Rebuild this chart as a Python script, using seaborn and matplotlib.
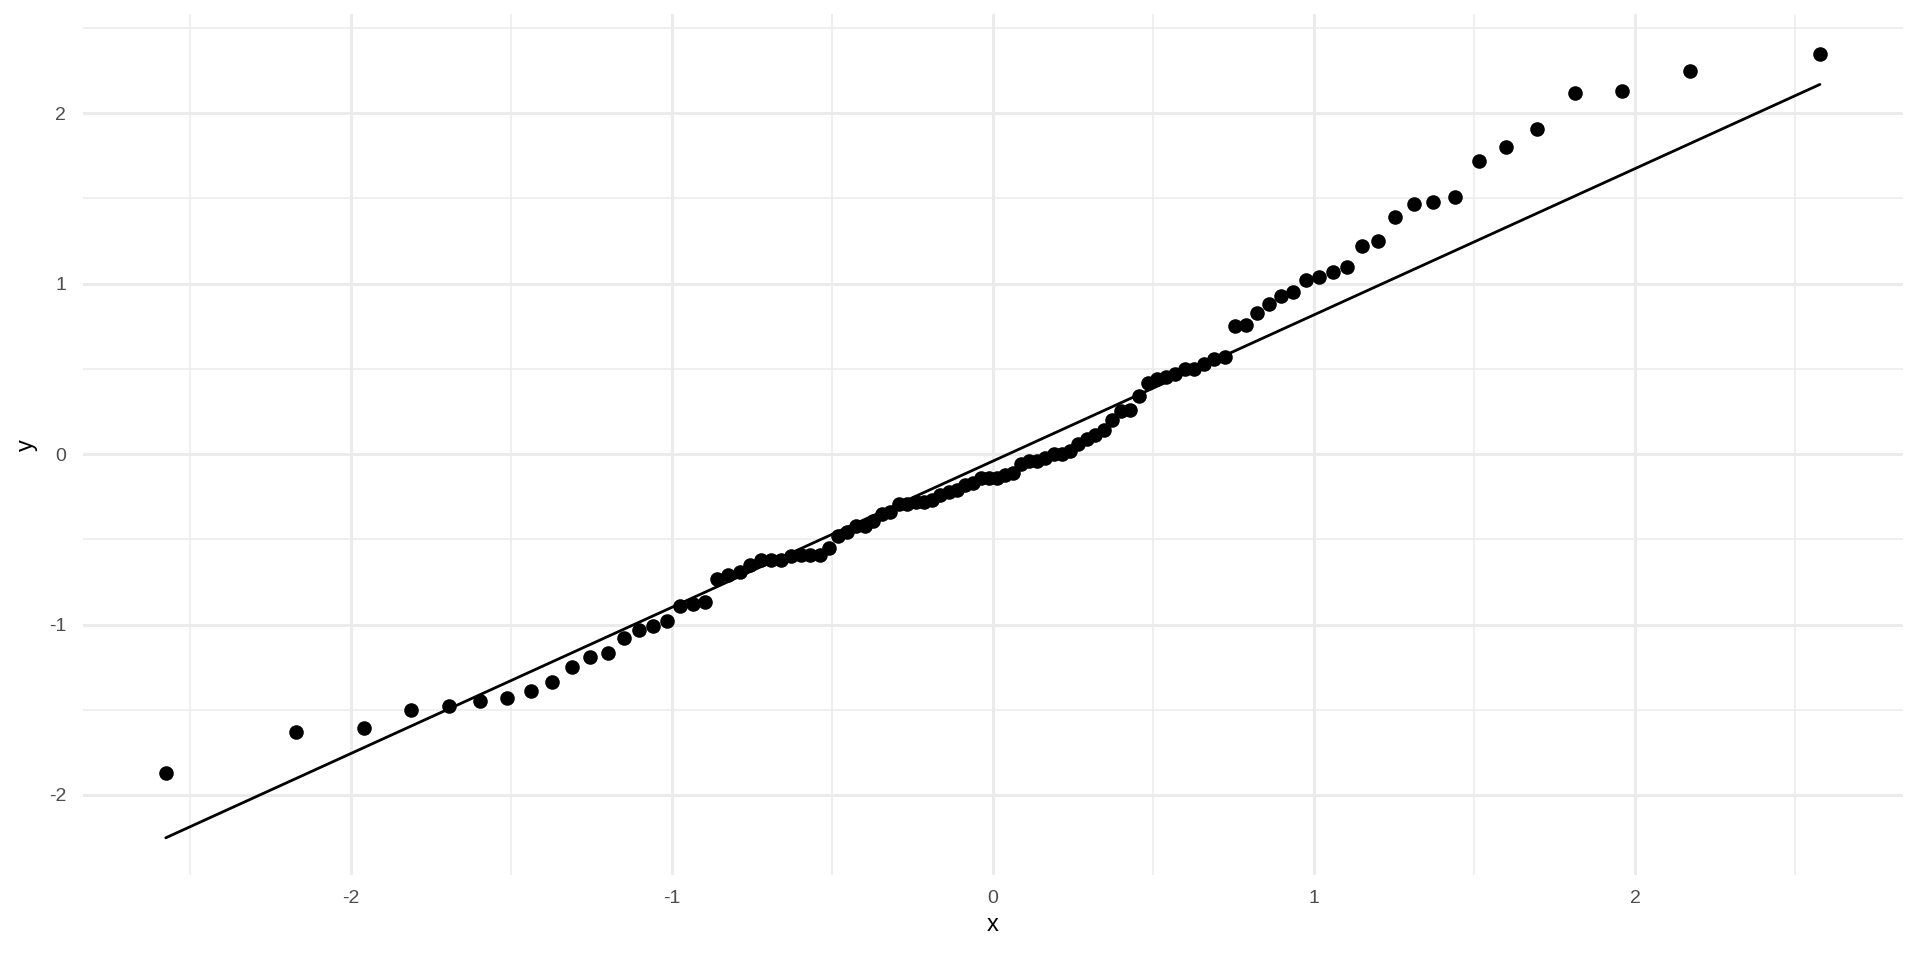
import numpy as np
import pandas as pd
import matplotlib
matplotlib.use("Agg")
import matplotlib.pyplot as plt
import seaborn as sns

# theoretical normal quantiles (x) and sorted sample values (y)
theoretical = [
    -2.576, -2.170, -1.960, -1.812, -1.695, -1.598, -1.514, -1.440, -1.372, -1.311,
    -1.254, -1.200, -1.150, -1.103, -1.058, -1.015, -0.974, -0.935, -0.896, -0.860,
    -0.824, -0.789, -0.755, -0.722, -0.690, -0.659, -0.628, -0.598, -0.568, -0.539,
    -0.510, -0.482, -0.454, -0.426, -0.399, -0.372, -0.345, -0.319, -0.292, -0.266,
    -0.240, -0.215, -0.189, -0.164, -0.138, -0.113, -0.088, -0.063, -0.038, -0.013,
    0.013, 0.038, 0.063, 0.088, 0.113, 0.138, 0.164, 0.189, 0.215, 0.240,
    0.266, 0.292, 0.319, 0.345, 0.372, 0.399, 0.426, 0.454, 0.482, 0.510,
    0.539, 0.568, 0.598, 0.628, 0.659, 0.690, 0.722, 0.755, 0.789, 0.824,
    0.860, 0.896, 0.935, 0.974, 1.015, 1.058, 1.103, 1.150, 1.200, 1.254,
    1.311, 1.372, 1.440, 1.514, 1.598, 1.695, 1.812, 1.960, 2.170, 2.576,
]
sample = [
    -1.87, -1.63, -1.61, -1.50, -1.48, -1.45, -1.43, -1.39, -1.34, -1.25,
    -1.19, -1.17, -1.08, -1.03, -1.01, -0.98, -0.89, -0.88, -0.87, -0.73,
    -0.71, -0.69, -0.65, -0.62, -0.62, -0.62, -0.60, -0.59, -0.59, -0.59,
    -0.55, -0.48, -0.46, -0.42, -0.42, -0.39, -0.35, -0.34, -0.29, -0.29,
    -0.28, -0.28, -0.27, -0.24, -0.22, -0.21, -0.18, -0.17, -0.14, -0.14,
    -0.14, -0.12, -0.11, -0.06, -0.04, -0.04, -0.02, 0.00, 0.00, 0.02,
    0.06, 0.09, 0.11, 0.14, 0.20, 0.25, 0.26, 0.34, 0.42, 0.44,
    0.45, 0.47, 0.50, 0.50, 0.53, 0.56, 0.57, 0.75, 0.76, 0.83,
    0.88, 0.93, 0.95, 1.02, 1.04, 1.07, 1.10, 1.22, 1.25, 1.39,
    1.47, 1.48, 1.51, 1.72, 1.80, 1.91, 2.12, 2.13, 2.25, 2.35,
]

df = pd.DataFrame({"x": theoretical, "y": sample})

# qq line through the quartiles (like R's qqline / stat_qq_line)
y_q = np.quantile(df["y"], [0.25, 0.75])
x_q = np.array([-0.6745, 0.6745])
slope = (y_q[1] - y_q[0]) / (x_q[1] - x_q[0])
intercept = y_q[0] - slope * x_q[0]
line_x = np.array([df["x"].min(), df["x"].max()])
line_df = pd.DataFrame({"x": line_x, "y": intercept + slope * line_x})

sns.set_theme(style="white")
plt.rcParams["font.family"] = ["Liberation Sans", "DejaVu Sans"]

fig = plt.figure(figsize=(19.2, 9.6), dpi=100)
ax = fig.add_axes([0.0432, 0.0885, 0.9478, 0.8965])

sns.scatterplot(data=df, x="x", y="y", color="black", s=110, linewidth=0, ax=ax, zorder=3)
sns.lineplot(data=line_df, x="x", y="y", color="black", linewidth=2, ax=ax, zorder=2)

ax.set_xlim(-2.834, 2.834)
ax.set_ylim(-2.47, 2.58)
ax.set_xticks([-2, -1, 0, 1, 2])
ax.set_yticks([-2, -1, 0, 1, 2])
ax.set_xticks(np.arange(-2.5, 3.0, 1.0), minor=True)
ax.set_yticks(np.arange(-1.5, 2.6, 1.0), minor=True)
ax.set_xticklabels(["-2", "-1", "0", "1", "2"])
ax.set_yticklabels(["-2", "-1", "0", "1", "2"])

ax.grid(True, which="major", color="#EBEBEB", linewidth=2.2)
ax.grid(True, which="minor", color="#EBEBEB", linewidth=1.1)
ax.set_axisbelow(True)
for sp in ax.spines.values():
    sp.set_visible(False)
ax.tick_params(which="both", length=0)
ax.tick_params(axis="x", labelsize=14, labelcolor="#4D4D4D", pad=11)
ax.tick_params(axis="y", labelsize=14, labelcolor="#4D4D4D", pad=12)
ax.set_xlabel("x", fontsize=17, color="black", labelpad=5)
ax.set_ylabel("y", fontsize=17, color="black", labelpad=8)

fig.savefig("out.png", dpi=100, facecolor="white")
